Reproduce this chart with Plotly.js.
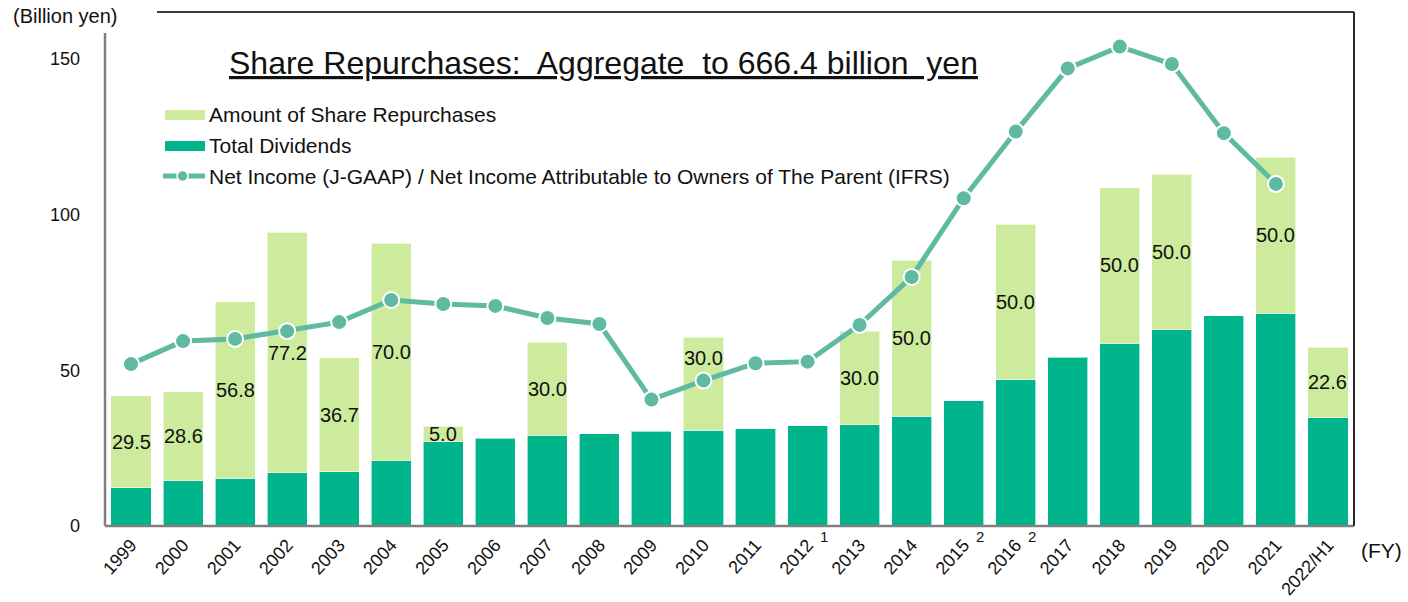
<!DOCTYPE html>
<html>
<head>
<meta charset="utf-8">
<script src="https://cdn.plot.ly/plotly-3.0.1.min.js"></script>
<style>html,body{margin:0;padding:0;background:#fff}</style>
</head>
<body>
<div id="chart" style="width:1408px;height:602px"></div>
<script>
// Fiscal years shown on the category axis
const fiscalYears = ['1999','2000','2001','2002','2003','2004','2005','2006','2007','2008',
  '2009','2010','2011','2012','2013','2014','2015','2016','2017','2018','2019','2020','2021','2022/H1'];

// Total dividends (billion yen)
const totalDividends = [12.3, 14.6, 15.3, 17.1, 17.4, 20.9, 27.0, 28.2, 29.1, 29.7,
  30.4, 30.7, 31.3, 32.2, 32.5, 35.3, 40.2, 47.0, 54.2, 58.7, 63.0, 67.5, 68.4, 34.8];

// Amount of share repurchases (billion yen); null where none were made
const shareRepurchases = [29.5, 28.6, 56.8, 77.2, 36.7, 70.0, 5.0, null, 30.0, null,
  null, 30.0, null, null, 30.0, 50.0, null, 50.0, null, 50.0, 50.0, null, 50.0, 22.6];

// Net income (J-GAAP) / net income attributable to owners of the parent (IFRS)
const netIncome = [52.0, 59.4, 60.1, 62.6, 65.5, 72.6, 71.3, 70.7, 66.8, 64.9,
  40.6, 46.7, 52.3, 52.8, 64.6, 80.0, 105.3, 126.7, 147.0, 154.0, 148.4, 126.2, 109.9, null];

// Footnote markers attached to some fiscal years
const footnoteYears = ['2012', '2015', '2016'];
const footnoteMarks = ['1', '2', '2'];

const seriesNames = [
  'Amount of Share Repurchases',
  'Total Dividends',
  'Net Income (J-GAAP) / Net Income Attributable to Owners of The Parent (IFRS)'
];

const COLOR_BUYBACK = '#cdeb9c';
const COLOR_DIVIDEND = '#00b48c';
const COLOR_INCOME = '#5fbaa1';
const FONT = 'Liberation Sans, Arial, sans-serif';

// Page geometry (pixels) used to place the decorations in paper space
const W = 1408, H = 602;
const PL = 105, PR = 1354, PT = 12, PB = 526;
const px = x => (x - PL) / (PR - PL);
const py = y => (PB - y) / (PB - PT);

// Segment labels are centred in each repurchase block; the 2010 one is
// lifted so that it clears the net-income marker.
const labelLift = {'2010': 26};

const traces = [
  {
    type: 'bar', name: seriesNames[1], x: fiscalYears, y: totalDividends,
    marker: {color: COLOR_DIVIDEND, line: {color: 'rgba(255,255,255,0.6)', width: 1}},
    hoverinfo: 'x+y'
  },
  {
    type: 'bar', name: seriesNames[0], x: fiscalYears, y: shareRepurchases,
    marker: {color: COLOR_BUYBACK, line: {color: 'rgba(255,255,255,0.6)', width: 1}},
    hoverinfo: 'x+y'
  },
  {
    type: 'scatter', mode: 'lines+markers', name: seriesNames[2], x: fiscalYears, y: netIncome,
    line: {color: COLOR_INCOME, width: 5},
    marker: {color: COLOR_INCOME, size: 16, line: {color: '#fff', width: 2}},
    connectgaps: false
  }
];

const annotations = [];
const shapes = [];

// Repurchase value labels
fiscalYears.forEach((fy, i) => {
  const r = shareRepurchases[i];
  if (!r) return;
  annotations.push({
    xref: 'x', yref: 'y', x: i, y: totalDividends[i] + r / 2,
    yshift: labelLift[fy] || 0, xanchor: 'center', yanchor: 'middle',
    text: r.toFixed(1), showarrow: false, font: {family: FONT, size: 20, color: '#111'}
  });
});

// Title
annotations.push({
  xref: 'paper', yref: 'paper', x: px(603), y: py(63), xanchor: 'center', yanchor: 'middle',
  text: '<u>Share Repurchases:  Aggregate  to 666.4 billion  yen</u>', showarrow: false,
  font: {family: FONT, size: 32, color: '#111'}
});

// Unit and axis notes
annotations.push({
  xref: 'paper', yref: 'paper', x: px(65), y: py(16), xanchor: 'center', yanchor: 'middle',
  text: '(Billion yen)', showarrow: false, font: {family: FONT, size: 20, color: '#111'}
});
annotations.push({
  xref: 'paper', yref: 'paper', x: px(1381), y: py(550), xanchor: 'center', yanchor: 'middle',
  text: '(FY)', showarrow: false, font: {family: FONT, size: 21, color: '#111'}
});

// Footnote markers next to tick labels (placed by category index)
footnoteYears.forEach((fy, i) => {
  annotations.push({
    xref: 'x', yref: 'paper', x: fiscalYears.indexOf(fy), y: py(536), xshift: 16,
    xanchor: 'center', yanchor: 'middle',
    text: footnoteMarks[i], showarrow: false, font: {family: FONT, size: 15, color: '#111'}
  });
});

// Legend drawn as swatches + text
const legendRows = [
  {y: 115, kind: 'bar', color: COLOR_BUYBACK, label: seriesNames[0]},
  {y: 146, kind: 'bar', color: COLOR_DIVIDEND, label: seriesNames[1]},
  {y: 177, kind: 'line', color: COLOR_INCOME, label: seriesNames[2]}
];
legendRows.forEach(row => {
  if (row.kind === 'bar') {
    shapes.push({type: 'rect', xref: 'paper', yref: 'paper',
      x0: px(165), x1: px(205), y0: py(row.y + 5), y1: py(row.y - 5),
      fillcolor: row.color, line: {width: 0}});
  } else {
    shapes.push({type: 'line', xref: 'paper', yref: 'paper',
      x0: px(163), x1: px(205), y0: py(row.y - 1), y1: py(row.y - 1),
      line: {color: row.color, width: 5}});
    shapes.push({type: 'circle', xref: 'paper', yref: 'paper',
      x0: px(177), x1: px(188), y0: py(row.y + 4.5), y1: py(row.y - 6.5),
      fillcolor: row.color, line: {color: '#fff', width: 1.5}});
  }
  annotations.push({
    xref: 'paper', yref: 'paper', x: px(207), y: py(row.y), xanchor: 'left', yanchor: 'middle',
    text: row.label, showarrow: false, font: {family: FONT, size: 21, color: '#111'}
  });
});

// Frame: grey axes at left and bottom, dark rule on top and right
shapes.push({type: 'line', xref: 'paper', yref: 'paper', x0: 0, x1: 0, y0: 0, y1: py(33),
  line: {color: '#808080', width: 2.5}, layer: 'above'});
shapes.push({type: 'line', xref: 'paper', yref: 'paper', x0: 0, x1: 1, y0: 0, y1: 0,
  line: {color: '#808080', width: 2.5}, layer: 'above'});
shapes.push({type: 'line', xref: 'paper', yref: 'paper', x0: px(157), x1: 1, y0: 1, y1: 1,
  line: {color: '#3a3a3a', width: 2}, layer: 'above'});
shapes.push({type: 'line', xref: 'paper', yref: 'paper', x0: 1, x1: 1, y0: 0, y1: 1,
  line: {color: '#2a2a2a', width: 2}, layer: 'above'});

const layout = {
  width: W, height: H,
  margin: {l: PL, r: W - PR, t: PT, b: H - PB, pad: 0},
  paper_bgcolor: '#fff', plot_bgcolor: '#fff',
  barmode: 'stack', bargap: 0.23,
  showlegend: false,
  font: {family: FONT, color: '#111'},
  xaxis: {
    type: 'category', range: [-0.5, fiscalYears.length - 0.5], autorange: false,
    tickangle: -48, ticks: '', showline: false, showgrid: false,
    zeroline: false, tickfont: {family: FONT, size: 18, color: '#111'},
    ticklabelstandoff: 4, automargin: false
  },
  yaxis: {
    range: [0, (PB - PT) / 3.113], autorange: false, tickvals: [0, 50, 100, 150], ticks: '',
    showgrid: false, zeroline: false, showline: false,
    tickfont: {family: FONT, size: 18, color: '#111'}, ticklabelstandoff: 24,
    automargin: false
  },
  annotations: annotations,
  shapes: shapes
};

Plotly.newPlot('chart', traces, layout, {displayModeBar: false, staticPlot: true});
</script>
</body>
</html>
